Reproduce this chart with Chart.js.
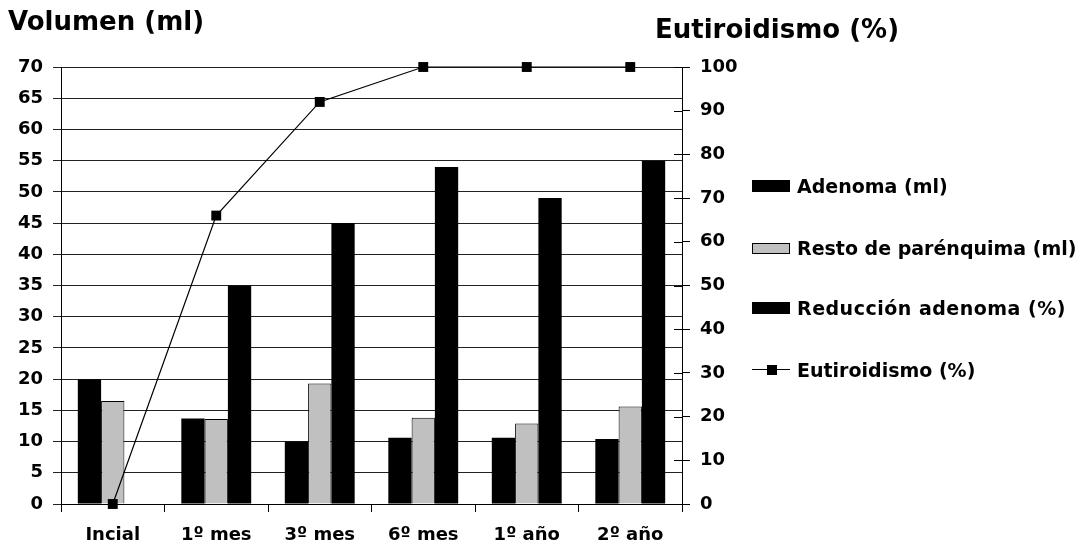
<!DOCTYPE html>
<html>
<head>
<meta charset="utf-8">
<script src="https://cdn.jsdelivr.net/npm/chart.js@4"></script>
<style>
  body { margin:0; background:#fff; font-family:"DejaVu Sans", sans-serif; }
  #wrap { position:relative; width:1087px; height:551px; overflow:hidden; }
  #c { position:absolute; left:0; top:0; }
  .ttl { position:absolute; font-weight:bold; font-size:26px; color:#000; white-space:nowrap; line-height:1; }
  .leg { position:absolute; left:752px; height:24px; display:flex; align-items:center; font-weight:bold; font-size:19px; white-space:nowrap; }
  .sw { width:38px; height:12px; background:#000; margin-right:7px; }
  .sw.gray { background:#c0c0c0; border:1px solid #000; height:9px; width:36px; }
  .ln { position:relative; width:38px; height:12px; margin-right:7px; }
  .ln::before { content:''; position:absolute; left:0; right:0; top:5px; border-top:1px solid #000; }
  .ln::after { content:''; position:absolute; left:15px; top:1px; width:10px; height:10px; background:#000; }
</style>
</head>
<body>
<div id="wrap">
  <canvas id="c" width="1087" height="551"></canvas>
  <div class="ttl" style="left:8px;top:8px;">Volumen (ml)</div>
  <div class="ttl" style="left:655px;top:16px;">Eutiroidismo (%)</div>
  <div class="leg" style="top:174px;"><div class="sw"></div>Adenoma (ml)</div>
  <div class="leg" style="top:236px;"><div class="sw gray"></div>Resto de parénquima (ml)</div>
  <div class="leg" style="top:296px;letter-spacing:0.5px;"><div class="sw"></div>Reducción adenoma (%)</div>
  <div class="leg" style="top:358px;"><div class="ln"></div>Eutiroidismo (%)</div>
</div>
<script>
// ── DATA ─────────────────────────────────────
const categories   = ['Incial', '1º mes', '3º mes', '6º mes', '1º año', '2º año'];
const adenoma      = [20, 13.7, 10, 10.6, 10.6, 10.4];
const resto        = [16.5, 13.6, 19.3, 13.8, 12.9, 15.6];
const reduccion    = [null, 35, 45, 54, 49, 55];
const eutiroidismo = [0, 66, 92, 100, 100, 100];

const FONT = { family: '"DejaVu Sans", sans-serif', size: 18, weight: 'bold' };

// inward half of the right-axis ticks
const innerTicks = {
  id: 'innerTicks',
  afterDraw(chart) {
    const s = chart.scales.y1, ctx = chart.ctx;
    ctx.save();
    ctx.strokeStyle = '#000'; ctx.lineWidth = 1;
    s.ticks.forEach(t => {
      const y = Math.round(s.getPixelForValue(t.value)) + 0.5;
      ctx.beginPath(); ctx.moveTo(s.left - 8, y); ctx.lineTo(s.left, y); ctx.stroke();
    });
    ctx.restore();
  }
};

new Chart(document.getElementById('c').getContext('2d'), {
  data: {
    labels: categories,
    datasets: [
      { type: 'line', label: 'Eutiroidismo (%)', data: eutiroidismo, yAxisID: 'y1', order: 0,
        borderColor: '#000', borderWidth: 1.2, backgroundColor: '#000', pointStyle: 'rect',
        pointRadius: 7, pointBorderWidth: 0, tension: 0, clip: false },
      { type: 'bar', label: 'Adenoma (ml)', data: adenoma, yAxisID: 'y', order: 1,
        backgroundColor: '#000', borderWidth: 0 },
      { type: 'bar', label: 'Resto de parénquima (ml)', data: resto, yAxisID: 'y', order: 1,
        backgroundColor: '#c0c0c0', borderColor: '#000', borderWidth: 1 },
      { type: 'bar', label: 'Reducción adenoma (%)', data: reduccion, yAxisID: 'y', order: 1,
        backgroundColor: '#000', borderWidth: 0 }
    ]
  },
  options: {
    responsive: false, animation: false, devicePixelRatio: 1,
    layout: { padding: { left: 0, top: 67, right: 345, bottom: 0 } },
    datasets: { bar: { categoryPercentage: 0.675, barPercentage: 1 } },
    plugins: { legend: { display: false }, tooltip: { enabled: false } },
    scales: {
      x: {
        offset: true,
        grid: { drawOnChartArea: false, offset: true, tickLength: 8, color: '#000' },
        border: { color: '#000' },
        ticks: { color: '#000', font: FONT, padding: 13 },
        afterFit: s => { s.height = 47; }
      },
      y: {
        position: 'left', min: 0, max: 70,
        grid: { color: '#222', tickLength: 8 },
        border: { color: '#000' },
        ticks: { stepSize: 5, color: '#000', font: FONT, padding: 10 },
        afterFit: s => { s.width = 61; }
      },
      y1: {
        position: 'right', min: 0, max: 100,
        grid: { drawOnChartArea: false, tickLength: 8, color: '#000' },
        border: { color: '#000' },
        ticks: { stepSize: 10, color: '#000', font: FONT, padding: 10 },
        afterFit: s => { s.width = 60; }
      }
    }
  },
  plugins: [innerTicks]
});
</script>
</body>
</html>
